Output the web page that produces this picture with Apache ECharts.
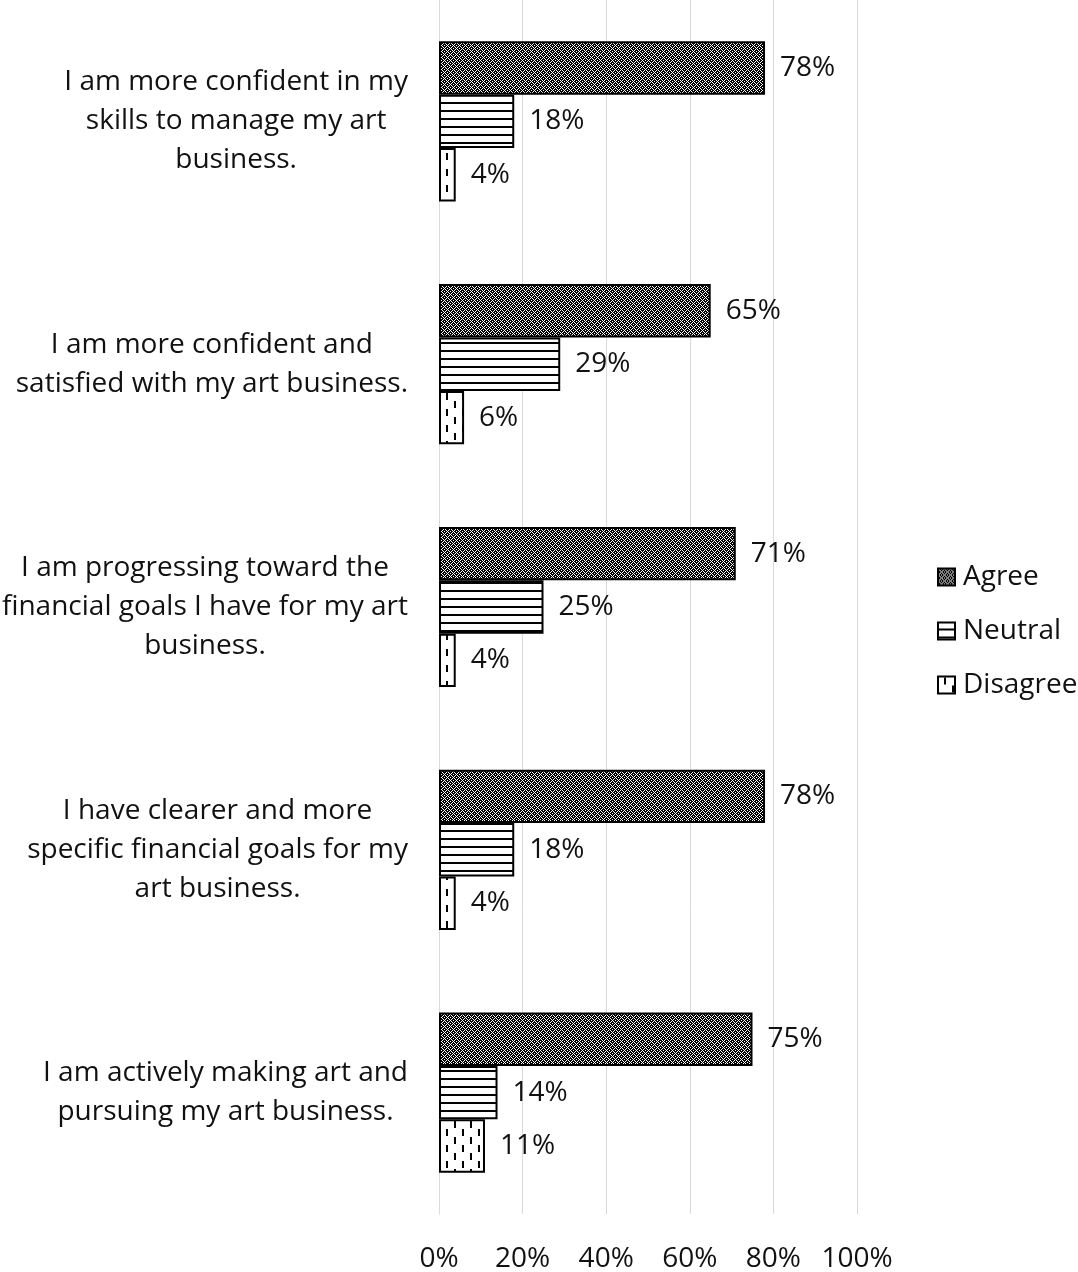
<!DOCTYPE html>
<html>
<head>
<meta charset="utf-8">
<script src="https://cdn.jsdelivr.net/npm/echarts@6/dist/echarts.min.js"></script>
<style>html,body{margin:0;padding:0;background:#fff}#c{width:1078px;height:1272px}</style>
</head>
<body>
<div id="c"></div>
<script>
const categories = [
  "I am more confident in my\nskills to manage my art\nbusiness.",
  "I am more confident and\nsatisfied with my art business.",
  "I am progressing toward the\nfinancial goals I have for my art\nbusiness.",
  "I have clearer and more\nspecific financial goals for my\nart business.",
  "I am actively making art and\npursuing my art business."
];
const seriesNames = ["Agree", "Neutral", "Disagree"];
const agree = [78, 65, 71, 78, 75];
const neutral = [18, 29, 25, 18, 14];
const disagree = [4, 6, 4, 4, 11];
const xTicks = [0, 20, 40, 60, 80, 100];

function makeTile(w, h, draw) {
  const c = document.createElement('canvas');
  c.width = w; c.height = h;
  const ctx = c.getContext('2d');
  draw(ctx, w, h);
  return c;
}
const agreeTile = makeTile(6, 6, (ctx, w, h) => {
  ctx.fillStyle = '#000'; ctx.fillRect(0, 0, w, h);
  ctx.fillStyle = '#fff';
  for (let x = 0; x < w; x++) for (let y = 0; y < h; y++) {
    if ((x + y) % 6 === 0 || (x - y + 6) % 6 === 0 || (x === 3 && y === 0) || (x === 0 && y === 3)) ctx.fillRect(x, y, 1, 1);
  }
});
const neutralTile = makeTile(8, 8, (ctx, w, h) => {
  ctx.fillStyle = '#fff'; ctx.fillRect(0, 0, w, h);
  ctx.fillStyle = '#000'; ctx.fillRect(0, 6, w, 2);
});
const disagreeTile = makeTile(16, 16, (ctx, w, h) => {
  ctx.fillStyle = '#fff'; ctx.fillRect(0, 0, w, h);
  ctx.fillStyle = '#000';
  ctx.fillRect(6, 1, 2, 7);
  ctx.fillRect(14, 9, 2, 7);
});
const patterns = [agreeTile, neutralTile, disagreeTile].map(t => ({image: t, repeat: 'repeat'}));
const dataSets = [agree, neutral, disagree];

const FONT = 'Open Sans';
const FS = 28;
const chart = echarts.init(document.getElementById('c'), null, {renderer: 'canvas'});
chart.setOption({
  animation: false,
  backgroundColor: '#fff',
  textStyle: {fontFamily: FONT},
  grid: {left: 439, right: 221, top: 0, bottom: 58, containLabel: false, outerBoundsMode: 'none'},
  legend: {
    orient: 'vertical', left: 932, top: 558,
    itemWidth: 17, itemHeight: 17, itemGap: 26,
    icon: 'rect',
    textStyle: {fontFamily: FONT, fontSize: FS, color: '#111', lineHeight: 28, padding: [0, 0, 0, 3]},
    data: seriesNames
  },
  xAxis: {
    type: 'value', min: 0, max: 100, interval: 20,
    axisLine: {show: false}, axisTick: {show: false},
    splitLine: {show: true, lineStyle: {color: '#d9d9d9', width: 1}},
    axisLabel: {
      margin: 31, fontFamily: FONT, fontSize: FS, color: '#111',
      formatter: v => xTicks.indexOf(v) >= 0 ? v + '%' : ''
    }
  },
  yAxis: {
    type: 'category', inverse: true, data: categories,
    axisLine: {show: true, lineStyle: {color: '#d9d9d9', width: 1}},
    axisTick: {show: false},
    axisLabel: {
      margin: 31, align: 'right', fontFamily: FONT, fontSize: FS, color: '#111',
      lineHeight: 39,
      formatter: v => v.split('\n').map(s => '{c|' + s + '}').join('\n'),
      rich: {c: {align: 'center', fontFamily: FONT, fontSize: FS, color: '#111', lineHeight: 39}}
    }
  },
  series: seriesNames.map((name, i) => ({
    name: name, type: 'bar', data: dataSets[i],
    barGap: '0%', barCategoryGap: '34%',
    itemStyle: {color: patterns[i], borderColor: '#000', borderWidth: 2},
    label: {
      show: true, position: 'right', distance: 15,
      fontFamily: FONT, fontSize: FS, color: '#111',
      formatter: p => p.value + '%'
    }
  }))
});
</script>
</body>
</html>
